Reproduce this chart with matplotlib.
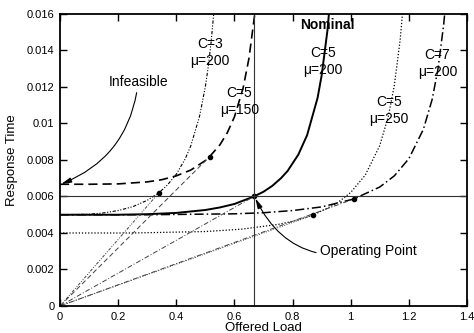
import matplotlib
matplotlib.use('Agg')
import matplotlib.pyplot as plt

plt.rcParams['font.family'] = ['Liberation Sans', 'DejaVu Sans']

# values (offered load, response time)

load_c3 = [0, 0.1, 0.15, 0.2, 0.25, 0.3, 0.34, 0.37, 0.4, 0.43, 0.45, 0.48, 0.5, 0.51, 0.52, 0.53]
resp_c3 = [0.005, 0.00503, 0.0051, 0.00523, 0.00544, 0.00579, 0.0062, 0.00664, 0.00722,
           0.00804, 0.00878, 0.01039, 0.01202, 0.01311, 0.01449, 0.01625]

load_c5_150 = [0, 0.1, 0.2, 0.3, 0.35, 0.4, 0.45, 0.5, 0.515, 0.55, 0.575, 0.6, 0.63, 0.65, 0.67]
resp_c5_150 = [0.00667, 0.00667, 0.00669, 0.0068, 0.00692, 0.00713, 0.00745, 0.00797, 0.00819,
               0.00883, 0.00948, 0.01036, 0.01195, 0.01357, 0.01601]

load_c5_200 = [0, 0.2, 0.3, 0.4, 0.5, 0.55, 0.6, 0.667, 0.7, 0.73, 0.76, 0.783, 0.82, 0.85,
               0.886, 0.9, 0.92, 0.93]
resp_c5_200 = [0.005, 0.005, 0.00503, 0.0051, 0.00526, 0.0054, 0.00559, 0.006, 0.00626, 0.00658,
               0.0070, 0.0074, 0.0083, 0.00936, 0.0114, 0.01263, 0.0151, 0.0169]

load_c5_250 = [0, 0.25, 0.5, 0.625, 0.75, 0.8, 0.869, 0.95, 1.0, 1.05, 1.1, 1.13, 1.15, 1.17, 1.18]
resp_c5_250 = [0.004, 0.004, 0.00408, 0.00421, 0.00447, 0.00464, 0.00497, 0.0056, 0.00622,
               0.00717, 0.00879, 0.01043, 0.01208, 0.01456, 0.01634]

load_c7 = [0, 0.3, 0.6, 0.7, 0.8, 0.9, 1.01, 1.1, 1.15, 1.2, 1.25, 1.28, 1.3, 1.32, 1.33]
resp_c7 = [0.005, 0.005, 0.00505, 0.00511, 0.00523, 0.00543, 0.00586, 0.00652, 0.00713,
           0.00807, 0.00968, 0.01131, 0.01296, 0.01544, 0.0172]

# operating points on each curve (same order as curves)
op_load = [0.34, 0.515, 0.667, 0.869, 1.01]
op_resp = [0.0062, 0.00819, 0.006, 0.00497, 0.00586]

nominal_load = 0.667
nominal_resp = 0.006

x_ticks = [0, 0.2, 0.4, 0.6, 0.8, 1.0, 1.2, 1.4]
x_labels = ['0', '0.2', '0.4', '0.6', '0.8', '1', '1.2', '1.4']
y_ticks = [0, 0.002, 0.004, 0.006, 0.008, 0.01, 0.012, 0.014, 0.016]
y_labels = ['0', '0.002', '0.004', '0.006', '0.008', '0.01', '0.012', '0.014', '0.016']

curve_labels = ['C=3\nμ=200', 'C=5\nμ=150', 'C=5\nμ=200', 'C=5\nμ=250', 'C=7\nμ=200']
label_pos = [(0.516, 0.0139), (0.617, 0.0112), (0.904, 0.0134), (1.132, 0.0107), (1.298, 0.0133)]


f = plt.figure(figsize=(4.74, 3.33), dpi=100)
ax = f.add_axes([0.1266, 0.0811, 0.8586, 0.8769])

styles = [
    dict(linestyle=(0, (3, 1.5, 1, 1.5, 1, 1.5)), linewidth=0.8),
    dict(linestyle=(0, (5.5, 3)), linewidth=1.2),
    dict(linestyle='solid', linewidth=1.4),
    dict(linestyle=(0, (1, 1.5)), linewidth=0.9),
    dict(linestyle=(0, (6, 2, 1, 2)), linewidth=1.1),
]
curves = [(load_c3, resp_c3), (load_c5_150, resp_c5_150), (load_c5_200, resp_c5_200),
          (load_c5_250, resp_c5_250), (load_c7, resp_c7)]

for (xs, ys), st in zip(curves, styles):
    ax.plot(xs, ys, color='k', **st)

# rays from the origin to each operating point
ray_styles = [(0, (3, 1.5, 1, 1.5, 1, 1.5)), (0, (5, 3)), (0, (5, 2, 1, 2)),
              (0, (1, 1.5)), (0, (5, 2, 1, 2))]
for xo, yo, ls in zip(op_load, op_resp, ray_styles):
    ax.plot([0, xo], [0, yo], color='0.25', linestyle=ls, linewidth=0.7)

ax.plot(op_load, op_resp, 'o', color='k', markersize=3)

# nominal cross-hair
ax.axhline(nominal_resp, color='0.2', linewidth=0.8)
ax.axvline(nominal_load, color='0.2', linewidth=0.8)

for txt, (xl, yl) in zip(curve_labels, label_pos):
    ax.text(xl, yl, txt, ha='center', va='center', fontsize=10, linespacing=1.3)

ax.text(0.919, 0.0154, 'Nominal', ha='center', va='center', fontsize=10, fontweight='bold')

ax.annotate('Infeasible', xy=(0.004, 0.00668), xytext=(0.269, 0.0123),
            ha='center', va='center', fontsize=10,
            arrowprops=dict(arrowstyle='-|>,head_length=0.6,head_width=0.15', color='k',
                            linewidth=0.8, shrinkA=1, shrinkB=0,
                            connectionstyle='arc3,rad=-0.3'))

ax.annotate('Operating Point', xy=(nominal_load + 0.005, nominal_resp - 0.0001),
            xytext=(0.895, 0.0030), ha='left', va='center', fontsize=10,
            arrowprops=dict(arrowstyle='-|>,head_length=0.6,head_width=0.15', color='k',
                            linewidth=0.8, shrinkA=1, shrinkB=0,
                            connectionstyle='arc3,rad=-0.4'))

ax.set_xlim(0, 1.4)
ax.set_ylim(0, 0.016)
ax.set_xticks(x_ticks)
ax.set_xticklabels(x_labels)
ax.set_yticks(y_ticks)
ax.set_yticklabels(y_labels)
ax.tick_params(direction='in', top=True, right=True, length=5, width=1, labelsize=8, pad=4)
for s in ax.spines.values():
    s.set_linewidth(1.3)

ax.set_xlabel('Offered Load', fontsize=9.5, labelpad=0)
ax.set_ylabel('Response Time', fontsize=9.5, labelpad=6)

f.savefig('out.png', dpi=100)
